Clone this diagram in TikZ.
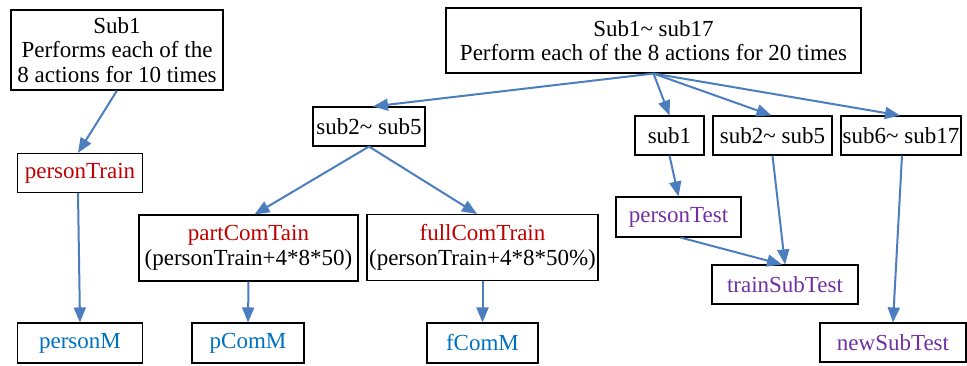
\documentclass[tikz,border=0pt]{standalone}
\usepackage{fontspec}
\setmainfont{Liberation Serif}
\usetikzlibrary{arrows.meta}
\definecolor{arr}{HTML}{4A7EBF}
\definecolor{tred}{HTML}{C00000}
\definecolor{tblue}{HTML}{0070C0}
\definecolor{tpur}{HTML}{7030A0}
\tikzset{
  box/.style={draw=black, line width=1.1pt, inner sep=0pt, align=center, font=\fontsize{23}{24.5}\selectfont},
  conn/.style={draw=arr, line width=2pt, -{Triangle[length=15pt,width=12pt]}},
}
\begin{document}
\begin{tikzpicture}[x=1pt,y=-1pt]
\useasboundingbox (0,0) rectangle (967,366);
% left branch
\node[box, minimum width=212pt, minimum height=80pt] (s1) at (117,50) {Sub1\\Performs each of the\\8 actions for 10 times};
\node[box, minimum width=125pt, minimum height=39pt, text=tred] (pt) at (80,173) {personTrain};
\node[box, minimum width=125pt, minimum height=40pt, text=tblue] (pm) at (80,343) {personM};
% top right
\node[box, minimum width=415pt, minimum height=65pt] (top) at (653.5,40.5) {Sub1\textasciitilde{} sub17\\Perform each of the 8 actions for 20 times};
\node[box, minimum width=112pt, minimum height=39pt] (s25a) at (369,126.5) {sub2\textasciitilde{} sub5};
\node[box, minimum width=69pt, minimum height=39pt] (sb1) at (669.5,135.5) {sub1};
\node[box, minimum width=119pt, minimum height=39pt] (s25b) at (772.5,135.5) {sub2\textasciitilde{} sub5};
\node[box, minimum width=120pt, minimum height=39pt] (s617) at (901,135.5) {\makebox[116pt]{sub6\textasciitilde{} sub17}};
% middle
\node[box, minimum width=219pt, minimum height=66pt] (pct) at (248.5,248) {\textcolor{tred}{partComTain}\\\makebox[214pt]{(personTrain+4*8*50)}};
\node[box, minimum width=231pt, minimum height=66pt] (fct) at (482.5,247.5) {\textcolor{tred}{fullComTrain}\\\makebox[229pt]{(personTrain+4*8*50\%)}};
\node[box, minimum width=112pt, minimum height=40pt, text=tblue] (pcm) at (248,343) {pComM};
\node[box, minimum width=111pt, minimum height=40pt, text=tblue] (fcm) at (482.5,343) {fComM};
% right lower
\node[box, minimum width=125pt, minimum height=40pt, text=tpur] (ptest) at (678.5,217) {personTest};
\node[box, minimum width=146pt, minimum height=39pt, text=tpur] (tst) at (785,284.5) {trainSubTest};
\node[box, minimum width=146pt, minimum height=39pt, text=tpur] (nst) at (893,342.5) {newSubTest};
% connectors
\draw[conn] (s1.south) -- ([xshift=-2pt]pt.north);
\draw[conn] ([xshift=-2pt]pt.south) -- (pm.north);
\draw[conn] (top.south) -- ([xshift=4pt]s25a.north);
\draw[conn] (top.south) -- (sb1.north);
\draw[conn] (top.south) -- ([xshift=-1pt]s25b.north);
\draw[conn] (top.south) -- ([xshift=-1pt]s617.north);
\draw[conn] (s25a.south) -- ([xshift=6pt]pct.north);
\draw[conn] (s25a.south) -- ([xshift=-5.5pt]fct.north);
\draw[conn] (pct.south) -- (pcm.north);
\draw[conn] (fct.south) -- (fcm.north);
\draw[conn] (sb1.south) -- ([xshift=0pt]ptest.north);
\draw[conn] ([xshift=2pt]ptest.south) -- ([xshift=-3pt]tst.north);
\draw[conn] (s25b.south) -- ([xshift=0pt]tst.north);
\draw[conn] ([xshift=1pt]s617.south) -- (nst.north);
\end{tikzpicture}
\end{document}
